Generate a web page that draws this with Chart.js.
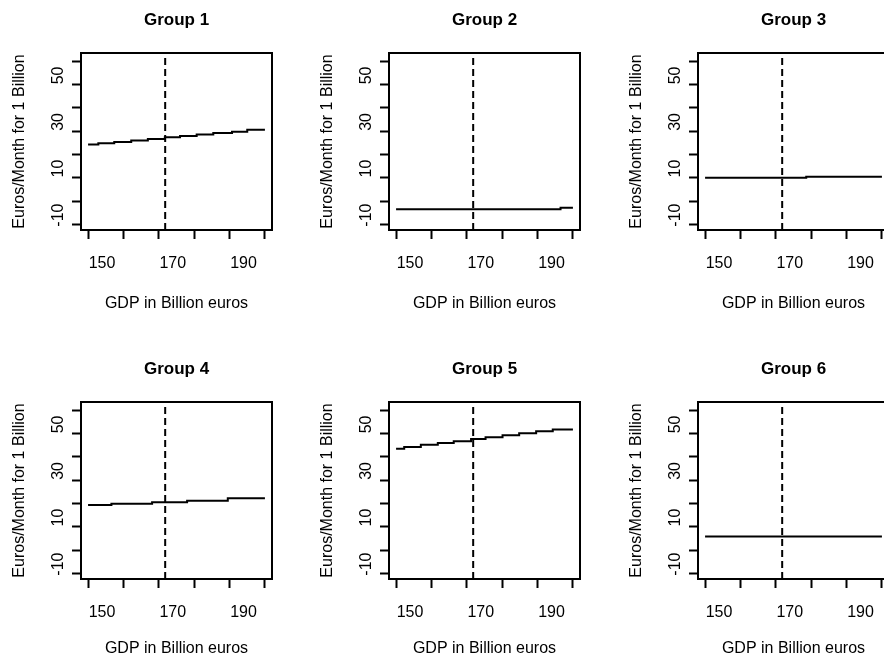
<!DOCTYPE html>
<html>
<head>
<meta charset="utf-8">
<script src="https://cdn.jsdelivr.net/npm/chart.js@4.4.1/dist/chart.umd.min.js"></script>
<style>
  html, body { margin: 0; padding: 0; background: #fff; }
  body { width: 884px; height: 656px; overflow: hidden; position: relative; }
  .panel { position: absolute; width: 300px; height: 349px; }
</style>
</head>
<body>
<div class="panel" style="left:0;top:0"><canvas id="g1"></canvas></div>
<div class="panel" style="left:308px;top:0"><canvas id="g2"></canvas></div>
<div class="panel" style="left:617px;top:0"><canvas id="g3"></canvas></div>
<div class="panel" style="left:0;top:349px"><canvas id="g4"></canvas></div>
<div class="panel" style="left:308px;top:349px"><canvas id="g5"></canvas></div>
<div class="panel" style="left:617px;top:349px"><canvas id="g6"></canvas></div>
<script>
// ===== DATA =====
const groupTitles = ['Group 1', 'Group 2', 'Group 3', 'Group 4', 'Group 5', 'Group 6'];

const xTicks = [150, 160, 170, 180, 190, 200];
const xTickLabels = [150, 170, 190];
const yTicks = [-20, -10, 0, 10, 20, 30, 40, 50];
const yTickLabels = [-10, 10, 30, 50];
const cutoff = 171.8;

// step start points (GDP) and level from there on
const g1X = [150, 152.9, 157.4, 162.2, 166.9, 171.7, 176, 180.7, 185.4, 190.7, 195, 200];
const g1Y = [14.3, 14.9, 15.4, 16.0, 16.7, 17.4, 18.0, 18.6, 19.3, 19.8, 20.6, 20.6];
const g2X = [150, 196.5, 200];
const g2Y = [-13.5, -12.8, -12.8];
const g3X = [150, 178.6, 200];
const g3Y = [0.0, 0.5, 0.5];
const g4X = [150, 156.6, 168.1, 178.0, 189.5, 200];
const g4Y = [9.4, 9.9, 10.6, 11.2, 12.3, 12.3];
const g5X = [150, 152.3, 157.0, 161.8, 166.3, 171.2, 175.3, 180.1, 184.8, 189.6, 194.3, 200];
const g5Y = [33.5, 34.3, 35.2, 36.0, 36.8, 37.7, 38.5, 39.3, 40.2, 41.0, 41.8, 41.8];
const g6X = [150, 200];
const g6Y = [-4.1, -4.1];

const X_MIN = 148, X_MAX = 202;
const Y_MIN = -22.4, Y_MAX = 53.6;

// ===== CHARTS =====
const FONT = '"Liberation Sans", Arial, Helvetica, sans-serif';

const framePlugin = {
  id: 'frame',
  afterDatasetsDraw(chart) {
    const { ctx, chartArea: a } = chart;
    ctx.save();
    ctx.strokeStyle = '#000';
    ctx.lineWidth = 2;
    ctx.strokeRect(a.left, a.top, a.right - a.left, a.bottom - a.top);
    ctx.restore();
  }
};

function makePanel(id, title, xs, ys, row) {
  const pts = xs.map((x, i) => ({ x: x, y: ys[i] }));
  const tickGrid = { drawOnChartArea: false, drawTicks: true, tickLength: 9, tickWidth: 2, tickColor: '#000' };
  return new Chart(document.getElementById(id), {
    type: 'line',
    data: {
      datasets: [
        { data: pts, borderColor: '#000', borderWidth: 2, pointRadius: 0, stepped: true, fill: false },
        { data: [{ x: cutoff, y: Y_MIN }, { x: cutoff, y: Y_MAX }], borderColor: '#000', borderWidth: 2, borderDash: [7, 4], pointRadius: 0 }
      ]
    },
    options: {
      responsive: true,
      maintainAspectRatio: false,
      animation: false,
      events: [],
      layout: { padding: { left: 0, right: 28, top: 0, bottom: 0 } },
      plugins: {
        legend: { display: false },
        tooltip: { enabled: false },
        title: {
          display: true, text: title, fullSize: false, color: '#000',
          font: { family: FONT, size: 17, weight: 'bold' },
          padding: { top: 10.3, bottom: 22.3 }
        }
      },
      scales: {
        x: {
          type: 'linear', min: X_MIN, max: X_MAX,
          afterBuildTicks: s => { s.ticks = xTicks.map(v => ({ value: v })); },
          afterFit: s => { s.height = 119; },
          grid: tickGrid,
          border: { display: false },
          ticks: {
            autoSkip: false, maxRotation: 0, labelOffset: 14, padding: 15, color: '#000',
            font: { family: FONT, size: 16 },
            callback: v => xTickLabels.includes(v) ? String(v) : ''
          },
          title: {
            display: true, text: 'GDP in Billion euros', color: '#000',
            font: { family: FONT, size: 16 },
            padding: { top: 0, bottom: row ? 40 : 36 }
          }
        },
        y: {
          type: 'linear', min: Y_MIN, max: Y_MAX,
          afterBuildTicks: s => { s.ticks = yTicks.map(v => ({ value: v })); },
          afterFit: s => { s.width = 81; },
          grid: tickGrid,
          border: { display: false },
          ticks: {
            autoSkip: false, minRotation: 90, maxRotation: 90, crossAlign: 'center',
            labelOffset: 14, padding: 2, color: '#000',
            font: { family: FONT, size: 16 },
            callback: v => yTickLabels.includes(v) ? String(v) : ''
          },
          title: {
            display: true, text: 'Euros/Month for 1 Billion', color: '#000',
            font: { family: FONT, size: 16 },
            padding: { top: 10, bottom: 0 }
          }
        }
      }
    },
    plugins: [framePlugin]
  });
}

makePanel('g1', groupTitles[0], g1X, g1Y, 0);
makePanel('g2', groupTitles[1], g2X, g2Y, 0);
makePanel('g3', groupTitles[2], g3X, g3Y, 0);
makePanel('g4', groupTitles[3], g4X, g4Y, 1);
makePanel('g5', groupTitles[4], g5X, g5Y, 1);
makePanel('g6', groupTitles[5], g6X, g6Y, 1);
</script>
</body>
</html>
